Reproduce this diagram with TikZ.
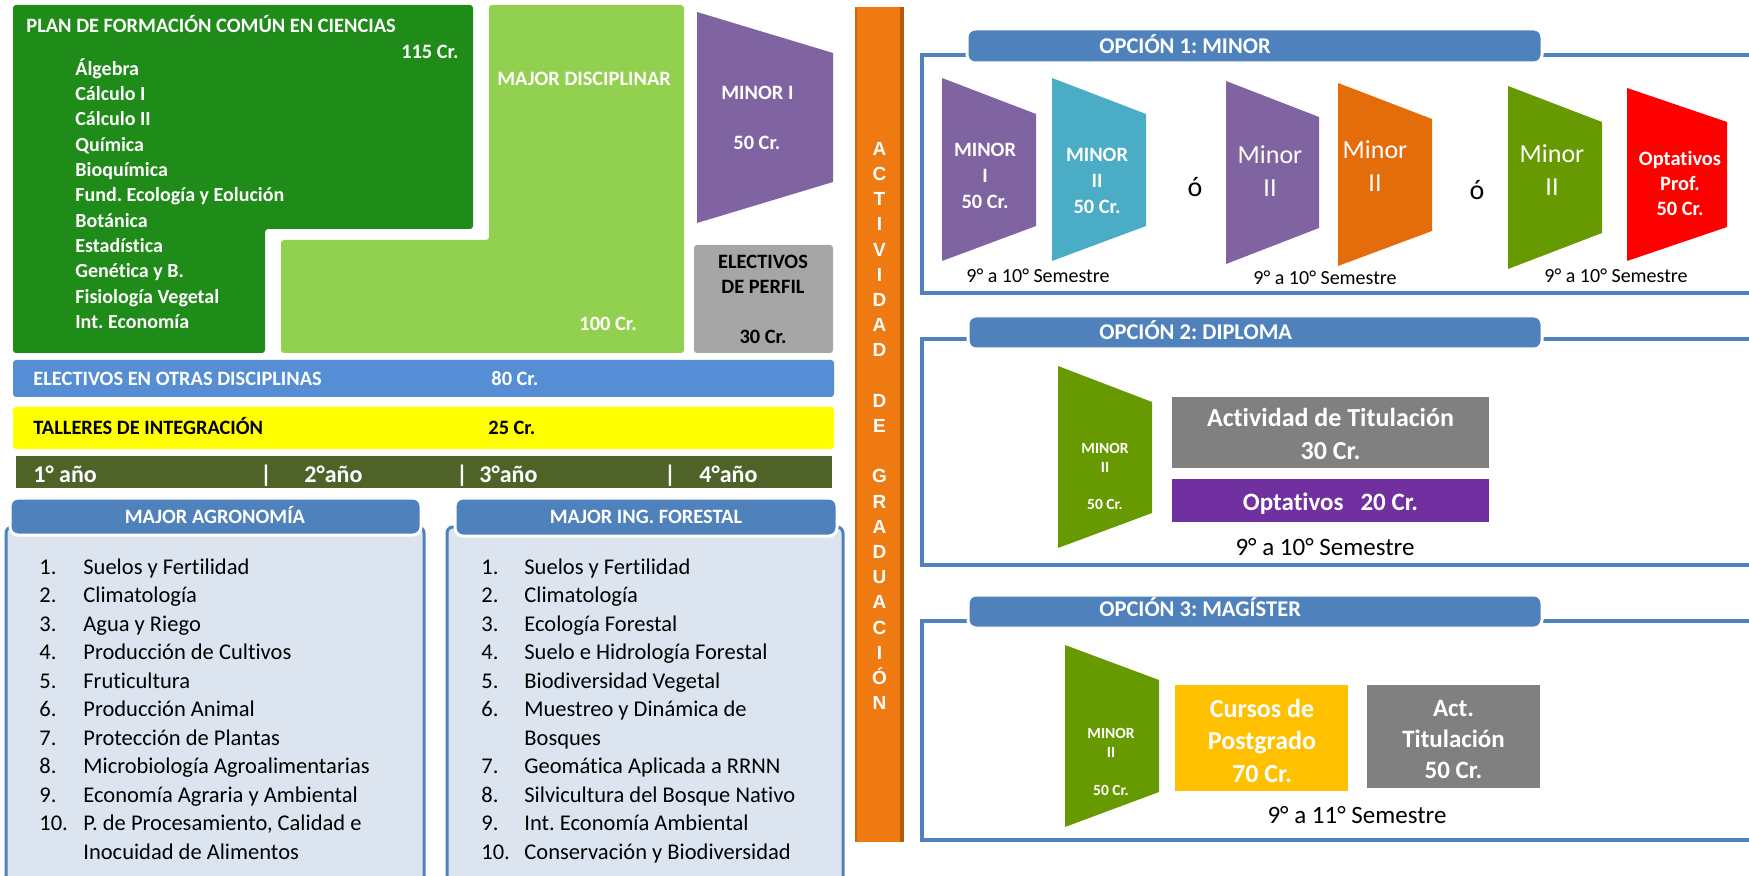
\documentclass[tikz,border=0pt]{standalone}
\usepackage{fontspec}
\setmainfont{Carlito}[Ligatures={NoCommon}]
\newfontfamily\stackfont{Liberation Sans}
\definecolor{dkgreen}{HTML}{1F8B18}
\definecolor{ltgreen}{HTML}{92D050}
\definecolor{minorpurple}{HTML}{8064A2}
\definecolor{grayone}{HTML}{A6A6A6}
\definecolor{barblue}{HTML}{558ED5}
\definecolor{baryellow}{HTML}{FFFF00}
\definecolor{olivebar}{HTML}{4F6228}
\definecolor{hdrblue}{HTML}{4F81BD}
\definecolor{panelfill}{HTML}{DCE4F0}
\definecolor{orbar}{HTML}{F07A12}
\definecolor{orbardk}{HTML}{B85A0A}
\definecolor{tealm}{HTML}{4BACC6}
\definecolor{orangem}{HTML}{E46C0A}
\definecolor{greenm}{HTML}{679A01}
\definecolor{redm}{HTML}{FF0000}
\definecolor{graytwo}{HTML}{808080}
\definecolor{purpletwo}{HTML}{7030A0}
\definecolor{goldm}{HTML}{FFC000}
\newcommand\fsb[2]{\fontsize{#1pt}{#2pt}\selectfont\bfseries}
\newcommand\fsr[2]{\fontsize{#1pt}{#2pt}\selectfont}
\frenchspacing
\begin{document}
\frenchspacing
\begin{tikzpicture}[x=0.5pt,y=-0.5pt,
  wt/.style={inner sep=0pt,text=white},
  bk/.style={inner sep=0pt,text=black},
  hdr/.style={fill=hdrblue,draw=white,line width=1.5pt,rounded corners=4pt},
  optframe/.style={draw=hdrblue,line width=1.75pt},
  panel/.style={fill=panelfill,draw=hdrblue,line width=1.5pt,rounded corners=3pt},
  lab/.style={font={\fsb{10.2}{12}}},
  hlab/.style={font={\fsb{11.25}{13}}},
  item/.style={bk,font={\fsr{11.25}{13}},anchor=base west},
]
\useasboundingbox (0,0) rectangle (1749,876);
\fill[white] (0,0) rectangle (1749,876);

% ---------- top left block ----------
\fill[dkgreen, rounded corners=1.5pt] (13,5) -- (473,5) -- (473,229) -- (265,229) -- (265,353) -- (13,353) -- cycle;
\fill[ltgreen, rounded corners=1.5pt] (489,5) -- (684,5) -- (684,353) -- (281,353) -- (281,240) -- (489,240) -- cycle;
\fill[minorpurple] (697,12) -- (833,53) -- (833,182) -- (697,223) -- cycle;
\fill[grayone, rounded corners=1.5pt] (694,245) rectangle (833,353);

\node[wt,lab,anchor=base west] (plan) at (26,32.4) {PLAN DE FORMACIÓN COMÚN EN CIENCIAS};
\node[wt,lab,anchor=base east] (c115) at (459,58.4) {115 Cr.};
\foreach \t [count=\i from 0] in {Álgebra,Cálculo I,Cálculo II,Química,Bioquímica,Fund. Ecología y Eolución,Botánica,Estadística,Genética y B.,Fisiología Vegetal,Int. Economía}
  \node[wt,font={\fsb{10}{12}},anchor=base west] (pf\i) at (75,{75.4+25.3*\i}) {\t};
\node[wt,lab,anchor=base west] (majd) at (497,85.4) {MAJOR DISCIPLINAR};
\node[wt,lab,anchor=base west] (c100) at (579,330.4) {100 Cr.};
\node[wt,lab,anchor=base west] (minI) at (721,99.4) {MINOR I};
\node[wt,lab,anchor=base west] (c50) at (733,149.4) {50 Cr.};
\node[bk,lab,anchor=base] (elp1) at (763,268.4) {ELECTIVOS};
\node[bk,lab,anchor=base] (elp2) at (763,293.4) {DE PERFIL};
\node[bk,lab,anchor=base] (c30) at (763,343.4) {30 Cr.};

% ---------- bars ----------
\fill[barblue, rounded corners=1.5pt] (13,360) rectangle (834,397);
\node[wt,lab,anchor=base west] (eod) at (33,385.4) {ELECTIVOS EN OTRAS DISCIPLINAS};
\node[wt,lab,anchor=base west] (c80) at (491,385.4) {80 Cr.};
\fill[baryellow, rounded corners=1.5pt] (13,407) rectangle (834,449);
\node[bk,lab,anchor=base west] (tal) at (33,434.4) {TALLERES DE INTEGRACIÓN};
\node[bk,lab,anchor=base west] (c25) at (488,434.4) {25 Cr.};
\fill[olivebar] (16,456) rectangle (832,488);
\node[wt,font={\fsb{12}{14}},anchor=base west] (y1) at (33,482.7) {1° año};
\node[wt,font={\fsb{12}{14}},anchor=base] (s1) at (266,482.7) {|};
\node[wt,font={\fsb{12}{14}},anchor=base west] (y2) at (304,482.7) {2°año};
\node[wt,font={\fsb{12}{14}},anchor=base] (s2) at (462,482.7) {|};
\node[wt,font={\fsb{12}{14}},anchor=base west] (y3) at (479,482.7) {3°año};
\node[wt,font={\fsb{12}{14}},anchor=base] (s3) at (670,482.7) {|};
\node[wt,font={\fsb{12}{14}},anchor=base west] (y4) at (699,482.7) {4°año};

% ---------- bottom panels ----------
\filldraw[panel] (6,895) -- (6,527) -- (424,527) -- (424,895);
\draw[hdr] (10,498) rectangle (421,535);
\node[wt,lab,anchor=base] (hagr) at (215,523.5) {MAJOR AGRONOMÍA};
\foreach \n/\t [count=\i from 0] in {1./Suelos y Fertilidad,2./Climatología,3./Agua y Riego,4./Producción de Cultivos,5./Fruticultura,6./Producción Animal,7./Protección de Plantas,8./Microbiología Agroalimentarias,9./Economía Agraria y Ambiental,10./{P. de Procesamiento, Calidad e},/Inocuidad de Alimentos}{
  \node[item] (an\i) at (39,{574.2+28.5*\i}) {\n};
  \node[item] (at\i) at (83,{574.2+28.5*\i}) {\t};
}
\filldraw[panel] (447,895) -- (447,527) -- (843,527) -- (843,895);
\draw[hdr] (455,498) rectangle (837,536);
\node[wt,lab,anchor=base] (hfor) at (646,523.5) {MAJOR ING. FORESTAL};
\foreach \n/\t [count=\i from 0] in {1./Suelos y Fertilidad,2./Climatología,3./Ecología Forestal,4./Suelo e Hidrología Forestal,5./Biodiversidad Vegetal,6./Muestreo y Dinámica de,/Bosques,7./Geomática Aplicada a RRNN,8./Silvicultura del Bosque Nativo,9./Int. Economía Ambiental,10./Conservación y Biodiversidad}{
  \node[item] (fn\i) at (481,{574.2+28.5*\i}) {\n};
  \node[item] (ft\i) at (524,{574.2+28.5*\i}) {\t};
}

% ---------- orange bar ----------
\fill[orbar] (855,7) rectangle (904,842);
\fill[orbardk] (900,7) rectangle (904,842);
\fill[orbardk!60!orbar] (855,7) rectangle (857,842);
\node[wt,align=center,font={\stackfont\bfseries\fontsize{9.5pt}{12.6pt}\selectfont}] (stack) at (879.5,426)
  {A\\C\\T\\I\\V\\I\\D\\A\\D\\~\\D\\E\\~\\G\\R\\A\\D\\U\\A\\C\\I\\Ó\\N};

% ---------- option 1 ----------
\draw[optframe] (1749,55) -- (922,55) -- (922,293) -- (1749,293);
\draw[hdr] (967,29) rectangle (1542,63);
\node[wt,hlab,anchor=base west] (h1) at (1099,53.2) {OPCIÓN 1: MINOR};
\fill[minorpurple] (942,78) -- (1036,114) -- (1036,226) -- (942,261) -- cycle;
\fill[tealm] (1052,78) -- (1146,114) -- (1146,226) -- (1052,261) -- cycle;
\fill[minorpurple] (1226,81) -- (1319,117) -- (1319,228) -- (1226,264) -- cycle;
\fill[orangem] (1338,83) -- (1432,119) -- (1432,231) -- (1338,266) -- cycle;
\fill[greenm] (1508,86) -- (1602,122) -- (1602,233) -- (1508,269) -- cycle;
\fill[redm] (1627,88) -- (1727,122) -- (1727,227) -- (1627,261) -- cycle;
\node[wt,align=center,font={\fsb{10.2}{13}}] (t1) at (985,176) {MINOR\\I\\50 Cr.};
\node[wt,align=center,font={\fsb{10.2}{13}}] (t2) at (1097,181) {MINOR\\II\\50 Cr.};
\node[wt,align=center,font={\fsr{13}{16.5}}] (t3) at (1270,171.5) {Minor\\II};
\node[wt,align=center,font={\fsr{13}{16.5}}] (t4) at (1375,166) {Minor\\II};
\node[wt,align=center,font={\fsr{13}{16.5}}] (t5) at (1552,170) {Minor\\II};
\node[wt,align=center,font={\fsb{10.2}{12.5}}] (t6) at (1680,183) {Optativos\\Prof.\\50 Cr.};
\node[bk,font={\fsr{14}{16}},anchor=base] (or1) at (1195,197) {ó};
\node[bk,font={\fsr{14}{16}},anchor=base] (or2) at (1477,200) {ó};
\node[bk,font={\fsr{10}{12}},anchor=base] (sem1) at (1038,283) {9° a 10° Semestre};
\node[bk,font={\fsr{10}{12}},anchor=base] (sem2) at (1325,285) {9° a 10° Semestre};
\node[bk,font={\fsr{10}{12}},anchor=base] (sem3) at (1616,283) {9° a 10° Semestre};

% ---------- option 2 ----------
\draw[optframe] (1749,339) -- (922,339) -- (922,565) -- (1749,565);
\draw[hdr] (968,316) rectangle (1542,349);
\node[wt,hlab,anchor=base west] (h2) at (1099,339.2) {OPCIÓN 2: DIPLOMA};
\fill[greenm] (1058,366) -- (1152,402) -- (1152,513) -- (1058,548) -- cycle;
\node[wt,align=center,font={\fsb{7.75}{9.5}}] (o2m) at (1105,457.5) {MINOR\\II};
\node[wt,font={\fsb{7.75}{9.5}}] (o2c) at (1105,504) {50 Cr.};
\fill[graytwo] (1172,397) rectangle (1489,468);
\node[wt,align=center,font={\fsb{13}{16.5}}] (act2) at (1330.5,433.5) {Actividad de Titulación\\30 Cr.};
\fill[purpletwo] (1172,479) rectangle (1489,522);
\node[wt,font={\fsb{12.5}{14}},anchor=base] (opt2) at (1330.5,510) {Optativos\ \ \ 20 Cr.};
\node[bk,font={\fsr{12.5}{14}},anchor=base] (sem4) at (1325,555) {9° a 10° Semestre};

% ---------- option 3 ----------
\draw[optframe] (1749,621) -- (922,621) -- (922,840) -- (1749,840);
\draw[hdr] (968,595) rectangle (1542,628);
\node[wt,hlab,anchor=base west] (h3) at (1099,616) {OPCIÓN 3: MAGÍSTER};
\fill[greenm] (1065,645) -- (1159,680) -- (1159,792) -- (1065,827) -- cycle;
\node[wt,align=center,font={\fsb{7.75}{9.5}}] (o3m) at (1111,742.5) {MINOR\\II};
\node[wt,font={\fsb{7.75}{9.5}}] (o3c) at (1111,790) {50 Cr.};
\fill[goldm] (1175,685) rectangle (1348,791);
\node[wt,align=center,font={\fsb{13}{16.25}}] (cur) at (1262,740.5) {Cursos de\\Postgrado\\70 Cr.};
\fill[graytwo] (1367,685) rectangle (1540,788);
\node[wt,align=center,font={\fsb{12.5}{15.5}}] (act3) at (1453.5,739) {Act.\\Titulación\\50 Cr.};
\node[bk,font={\fsr{12.5}{14}},anchor=base] (sem5) at (1357,823) {9° a 11° Semestre};
\end{tikzpicture}
\end{document}
